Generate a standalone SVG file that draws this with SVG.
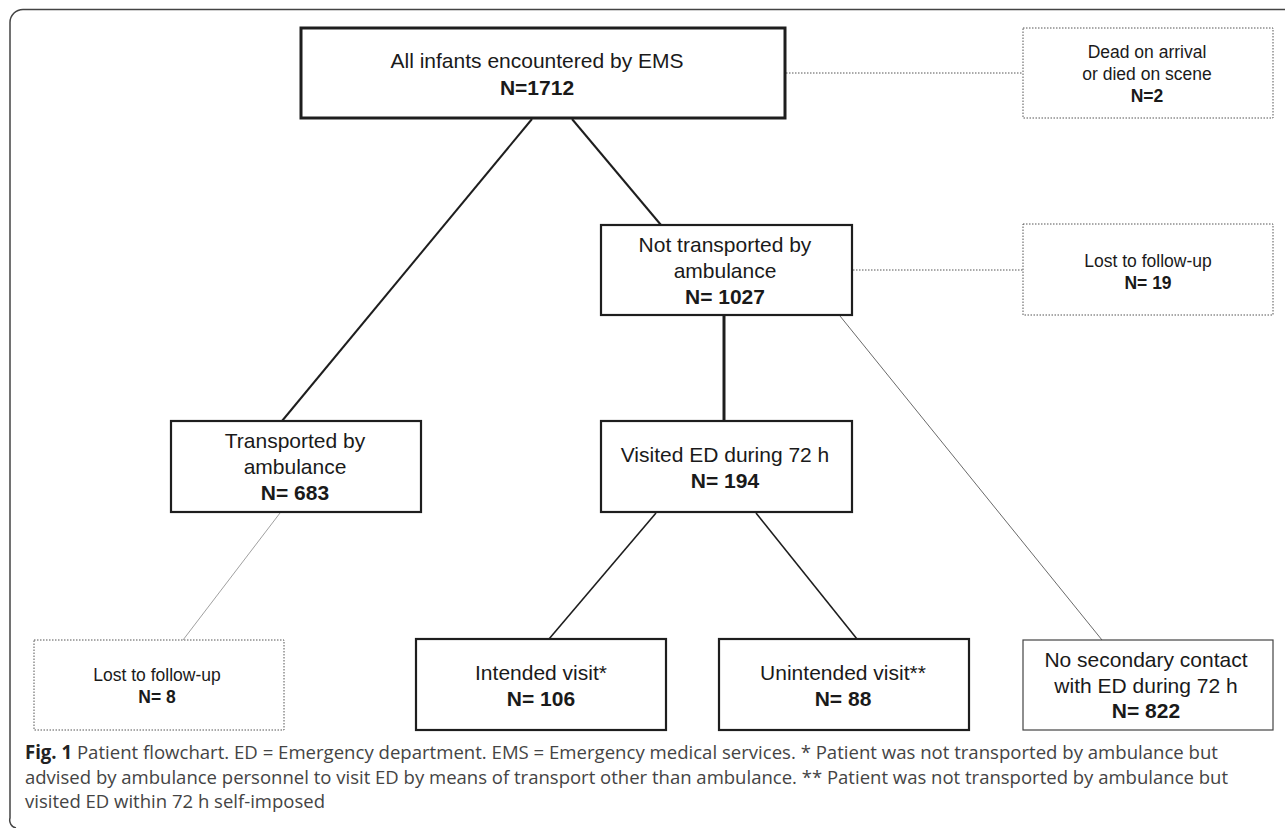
<svg xmlns="http://www.w3.org/2000/svg" width="1285" height="828" viewBox="0 0 1285 828">
<style>
.box{fill:#fff;stroke:#1e1e1e;stroke-width:2.2}
.top{stroke-width:3}
.thin{fill:#fff;stroke:#444;stroke-width:1.2}
.dot{fill:#fff;stroke:#555;stroke-width:1;stroke-dasharray:1.5 1.5}
.t{font-family:"Liberation Sans",Arial,Helvetica,sans-serif;font-size:21px;fill:#1a1a1a;text-anchor:middle}
.s{font-size:17.5px}
.b{font-weight:bold}
.c{font-family:"Open Sans","Noto Sans",sans-serif;font-size:19px;fill:#444}
</style>
<path d="M1285 9.5 H23 A13 13 0 0 0 10 22.5 V818 A8 8 0 0 0 16 828" fill="none" stroke="#444" stroke-width="1.5"/>
<g id="connectors" fill="none">
<line x1="532" y1="119" x2="282" y2="421" stroke="#1e1e1e" stroke-width="2"/>
<line x1="572" y1="119" x2="661" y2="225" stroke="#1e1e1e" stroke-width="2"/>
<line x1="786" y1="73" x2="1023" y2="73" stroke="#555" stroke-width="1" stroke-dasharray="1.5 1.5"/>
<line x1="853" y1="270" x2="1023" y2="270" stroke="#555" stroke-width="1" stroke-dasharray="1.5 1.5"/>
<line x1="724" y1="315" x2="724" y2="421" stroke="#1e1e1e" stroke-width="3"/>
<line x1="840" y1="316" x2="1102" y2="640" stroke="#444" stroke-width="0.8"/>
<line x1="280" y1="513" x2="183" y2="640" stroke="#888" stroke-width="0.8"/>
<line x1="656" y1="513" x2="549" y2="639" stroke="#1e1e1e" stroke-width="1.6"/>
<line x1="756" y1="513" x2="857" y2="639" stroke="#1e1e1e" stroke-width="1.6"/>
</g>
<g id="n-all">
<rect class="box top" x="301" y="28" width="484" height="90"/>
<text class="t" x="537" y="68">All infants encountered by EMS</text>
<text class="t b" x="537" y="95">N=1712</text>
</g>
<g id="n-dead">
<rect class="dot" x="1023" y="28" width="250" height="90"/>
<text class="t s" x="1147" y="58">Dead on arrival</text>
<text class="t s" x="1147" y="80">or died on scene</text>
<text class="t s b" x="1147" y="102">N=2</text>
</g>
<g id="n-not">
<rect class="box" x="601" y="225" width="251" height="90"/>
<text class="t" x="725" y="252">Not transported by</text>
<text class="t" x="725" y="278">ambulance</text>
<text class="t b" x="725" y="304">N= 1027</text>
</g>
<g id="n-lost19">
<rect class="dot" x="1023" y="224" width="250" height="91"/>
<text class="t s" x="1148" y="267">Lost to follow-up</text>
<text class="t s b" x="1148" y="289">N= 19</text>
</g>
<g id="n-trans">
<rect class="box" x="171" y="421" width="250" height="91"/>
<text class="t" x="295" y="448">Transported by</text>
<text class="t" x="295" y="474">ambulance</text>
<text class="t b" x="295" y="500">N= 683</text>
</g>
<g id="n-visited">
<rect class="box" x="601" y="421" width="251" height="91"/>
<text class="t" x="725" y="462">Visited ED during 72 h</text>
<text class="t b" x="725" y="488">N= 194</text>
</g>
<g id="n-lost8">
<rect class="dot" x="34" y="640" width="250" height="90"/>
<text class="t s" x="157" y="681">Lost to follow-up</text>
<text class="t s b" x="157" y="703">N= 8</text>
</g>
<g id="n-intended">
<rect class="box" x="416" y="639" width="250" height="91"/>
<text class="t" x="541" y="680">Intended visit*</text>
<text class="t b" x="541" y="706">N= 106</text>
</g>
<g id="n-unintended">
<rect class="box" x="719" y="639" width="250" height="91"/>
<text class="t" x="843" y="680">Unintended visit**</text>
<text class="t b" x="843" y="706">N= 88</text>
</g>
<g id="n-nosec">
<rect class="thin" x="1023" y="640" width="250" height="90"/>
<text class="t" x="1146" y="667">No secondary contact</text>
<text class="t" x="1146" y="693">with ED during 72 h</text>
<text class="t b" x="1146" y="718">N= 822</text>
</g>
<g id="caption">
<text class="c" x="25" y="759" textLength="1193" lengthAdjust="spacingAndGlyphs"><tspan font-weight="bold" fill="#222">Fig. 1</tspan> Patient flowchart. ED = Emergency department. EMS = Emergency medical services. * Patient was not transported by ambulance but</text>
<text class="c" x="25" y="784" textLength="1203" lengthAdjust="spacingAndGlyphs">advised by ambulance personnel to visit ED by means of transport other than ambulance. ** Patient was not transported by ambulance but</text>
<text class="c" x="25" y="808" textLength="300" lengthAdjust="spacingAndGlyphs">visited ED within 72 h self-imposed</text>
</g>
</svg>
